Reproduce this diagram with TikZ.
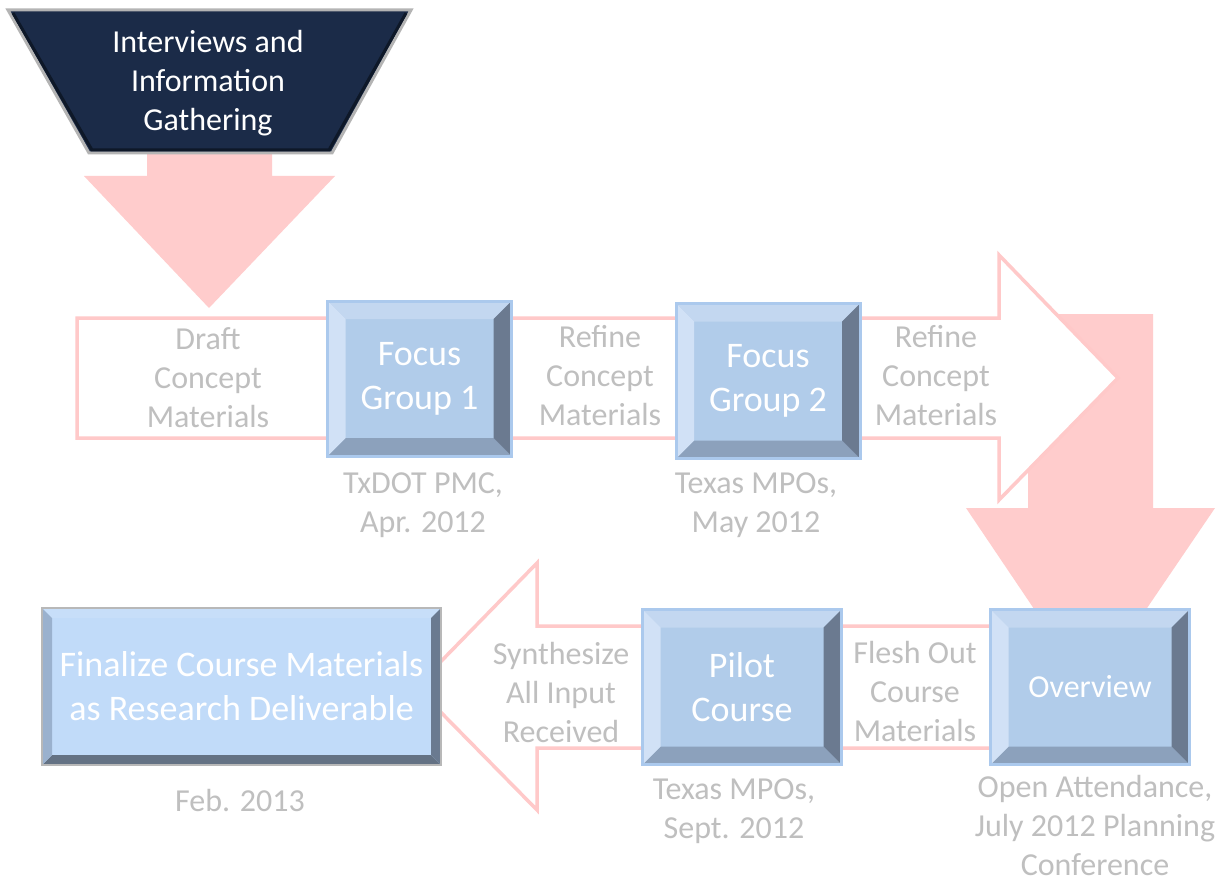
\documentclass[tikz,border=0pt]{standalone}
\usepackage{fontspec}
\setmainfont{Carlito}
\usepackage{tikz}
\definecolor{pinkarrow}{HTML}{FFCCCC}
\definecolor{pinkline}{HTML}{FFC9C9}
\definecolor{navy}{HTML}{1B2B48}
\definecolor{navydark}{HTML}{0E1828}
\definecolor{trapedge}{HTML}{B4B4B4}
\definecolor{notegray}{HTML}{BFBFBF}
\definecolor{boxface}{HTML}{B1CCEA}
\definecolor{boxedge}{HTML}{ABC9ED}
\definecolor{bvtopc}{HTML}{C3D7F0}
\definecolor{bvleftc}{HTML}{D1E1F6}
\definecolor{bvrightc}{HTML}{6B7A90}
\definecolor{bvbottomc}{HTML}{8CA1BC}
\definecolor{finface}{HTML}{C1DBF9}
\definecolor{finedge}{HTML}{B8B8B8}
\definecolor{fintopc}{HTML}{C7DEF9}
\definecolor{finleftc}{HTML}{9AB1CE}
\definecolor{finrightc}{HTML}{6A7A90}
\definecolor{finbottomc}{HTML}{647284}
\tikzset{
  bevel/.store in    = \bvw,
  shade top/.store in    = \bvtop,
  shade left/.store in   = \bvleft,
  shade right/.store in  = \bvright,
  shade bottom/.store in = \bvbottom,
  bevel=18pt, shade top=bvtopc, shade left=bvleftc,
  shade right=bvrightc, shade bottom=bvbottomc,
  bigarrow/.style = { fill=pinkarrow },
  hollow/.style   = { draw=pinkline, line width=3.5pt, fill=white },
  note/.style     = { text=notegray, align=center, inner sep=0pt,
                      font=\fontsize{32}{39}\selectfont },
  bevelbox/.style = { draw=boxedge, line width=3pt, fill=boxface,
                      minimum width=184pt, minimum height=155pt, inner sep=0pt,
                      text=white, align=center, font=\fontsize{36}{44}\selectfont,
    path picture={
      \path (path picture bounding box.south west) coordinate (pb1)
            (path picture bounding box.north east) coordinate (pb2);
      \fill[fill=\bvtop] (pb1 |- pb2) -- (pb2) -- ([shift={(-\bvw,-\bvw)}]pb2)
            -- ([shift={(\bvw,-\bvw)}]pb1 |- pb2) -- cycle;
      \fill[fill=\bvbottom] (pb1) -- (pb2 |- pb1) -- ([shift={(-\bvw,\bvw)}]pb2 |- pb1)
            -- ([shift={(\bvw,\bvw)}]pb1) -- cycle;
      \fill[fill=\bvleft] (pb1) -- (pb1 |- pb2) -- ([shift={(\bvw,-\bvw)}]pb1 |- pb2)
            -- ([shift={(\bvw,\bvw)}]pb1) -- cycle;
      \fill[fill=\bvright] (pb2) -- (pb2 |- pb1) -- ([shift={(-\bvw,\bvw)}]pb2 |- pb1)
            -- ([shift={(-\bvw,-\bvw)}]pb2) -- cycle;
    }},
  finalbox/.style = { bevelbox, draw=finedge, line width=1.5pt, fill=finface,
                      bevel=10pt, shade top=fintopc, shade left=finleftc,
                      shade right=finrightc, shade bottom=finbottomc,
                      minimum width=399pt, minimum height=157pt }
}

\begin{document}
\begin{tikzpicture}[x=1pt,y=-1pt]
  \useasboundingbox[fill=white] (0,0) rectangle (1224,880);
  % Draw the big arrows
  \fill[bigarrow] (1028,314) -- (1153,314) -- (1153,508) -- (1215,508) -- (1090,692)
        -- (966,508) -- (1028,508) -- cycle;
  \draw[hollow] (77,318) -- (999,318) -- (999,255) -- (1118,378) -- (999,500)
        -- (999,438) -- (77,438) -- cycle;
  \draw[hollow] (1000,626) -- (537,626) -- (537,563) -- (416,687) -- (537,810)
        -- (537,748) -- (1000,748) -- cycle;
  \fill[bigarrow] (147,140) -- (272,140) -- (272,176) -- (335,176) -- (209,308)
        -- (84,176) -- (147,176) -- cycle;
  % Draw the funnel on top
  \draw[trapedge, line width=3pt, fill=navy] (8,10) -- (411,10) -- (332,153) -- (89,153) -- cycle;
  \draw[navydark, line width=3pt] (13,13) -- (92,150) -- (329,150) -- (406,13);
  \node[text=white, align=center, font=\fontsize{32}{39}\selectfont] (gather) at (208,83)
        {Interviews and\\Information\\Gathering};
  % Draw the boxes
  \node[bevelbox] (fg1) at (419.5,378.5) {Focus\\Group 1};
  \node[bevelbox] (fg2) at (768,381) {Focus\\Group 2};
  \node[bevelbox, minimum width=199pt] (pilot) at (742,687) {Pilot\\Course};
  \node[bevelbox, minimum width=199pt, font=\fontsize{32}{39}\selectfont] (overview)
        at (1090,687) {Overview};
  \node[finalbox] (final) at (241.5,686.5) {Finalize Course Materials\\as Research Deliverable};
  % Draw labels
  \node[note] (draft)   at (208,378)  {Draft\\Concept\\Materials};
  \node[note] (refine1) at (600,376)  {Refine\\Concept\\Materials};
  \node[note] (refine2) at (936,376)  {Refine\\Concept\\Materials};
  \node[note] (when1)   at (423,505)  {TxDOT PMC,\\Apr. 2012};
  \node[note] (when2)   at (756,505)  {Texas MPOs,\\May 2012};
  \node[note] (synth)   at (561,692)  {Synthesize\\All Input\\Received};
  \node[note] (flesh)   at (915,692)  {Flesh Out\\Course\\Materials};
  \node[note] (when3)   at (734,811)  {Texas MPOs,\\Sept. 2012};
  \node[note] (when4)   at (1095,825) {Open Attendance,\\July 2012 Planning\\Conference};
  \node[note] (when5)   at (240,801)  {Feb. 2013};
\end{tikzpicture}
\end{document}
